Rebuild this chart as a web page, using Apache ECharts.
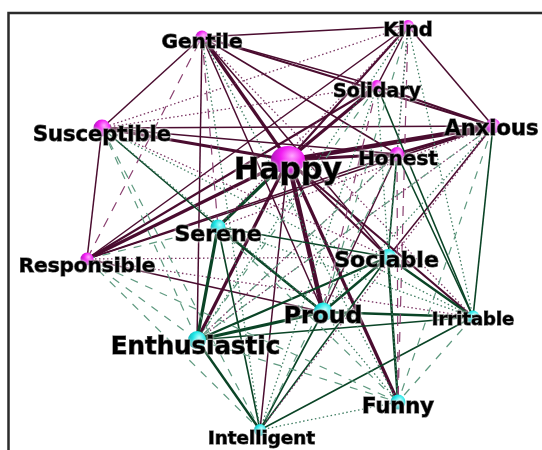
<!DOCTYPE html>
<html>
<head>
<meta charset="utf-8">
<script src="https://cdn.jsdelivr.net/npm/echarts@6/dist/echarts.min.js"></script>
<style>
  html, body { margin: 0; padding: 0; background: #fff; }
  #chart { width: 542px; height: 450px; }
</style>
</head>
<body>
<div id="chart"></div>
<script>
// nodes (layout coordinates in the 542 x 450 frame)
const nodeNames = ['Gentile', 'Kind', 'Solidary', 'Anxious', 'Susceptible', 'Happy', 'Honest', 'Serene',
  'Responsible', 'Sociable', 'Proud', 'Irritable', 'Enthusiastic', 'Funny', 'Intelligent'];
const nodeX = [202, 408, 377, 493, 102, 288, 397, 218, 87, 388, 323, 473, 197, 398, 260];
const nodeY = [37, 26, 86, 126, 128, 160, 154, 227, 259, 257, 312, 317, 340, 402, 430];
const nodeGroup = ['m', 'm', 'm', 'm', 'm', 'm', 'm', 'c', 'm', 'c', 'c', 'c', 'c', 'c', 'c'];

// links: source, target, kind
const links = [
  ['Happy', 'Gentile', 'M3'], ['Happy', 'Solidary', 'M3'], ['Happy', 'Anxious', 'M4'],
  ['Happy', 'Honest', 'M3'], ['Happy', 'Susceptible', 'M3'], ['Happy', 'Responsible', 'M3'],
  ['Happy', 'Proud', 'M4'], ['Happy', 'Funny', 'M3'], ['Happy', 'Enthusiastic', 'M3'],
  ['Happy', 'Sociable', 'M2'], ['Happy', 'Kind', 'M2'], ['Happy', 'Irritable', 'M2'],
  ['Happy', 'Intelligent', 'M1'], ['Happy', 'Serene', 'G3'],
  ['Gentile', 'Kind', 'M1'], ['Gentile', 'Susceptible', 'M1'], ['Gentile', 'Solidary', 'M1'],
  ['Gentile', 'Anxious', 'M2'], ['Gentile', 'Honest', 'M1'], ['Gentile', 'Enthusiastic', 'M1'],
  ['Gentile', 'Proud', 'M1'], ['Gentile', 'Sociable', 'M1'],
  ['Susceptible', 'Responsible', 'M1'], ['Susceptible', 'Anxious', 'M1'], ['Susceptible', 'Honest', 'M1'],
  ['Responsible', 'Solidary', 'M2'], ['Responsible', 'Kind', 'M1'], ['Responsible', 'Honest', 'M1'],
  ['Responsible', 'Anxious', 'M1'], ['Responsible', 'Proud', 'M1'],
  ['Kind', 'Solidary', 'M1'], ['Kind', 'Anxious', 'M1'], ['Solidary', 'Anxious', 'M2'],
  ['Anxious', 'Honest', 'M3'], ['Anxious', 'Sociable', 'M1'], ['Honest', 'Proud', 'M1'],
  ['Serene', 'Enthusiastic', 'G3'], ['Serene', 'Proud', 'G2'], ['Serene', 'Intelligent', 'G1'],
  ['Serene', 'Sociable', 'G1'], ['Enthusiastic', 'Proud', 'G3'], ['Enthusiastic', 'Sociable', 'G2'],
  ['Enthusiastic', 'Intelligent', 'G2'], ['Enthusiastic', 'Irritable', 'G1'], ['Proud', 'Sociable', 'G2'],
  ['Proud', 'Irritable', 'G2'], ['Proud', 'Intelligent', 'G1'], ['Sociable', 'Irritable', 'G2'],
  ['Sociable', 'Funny', 'G2'], ['Sociable', 'Intelligent', 'G1'], ['Irritable', 'Intelligent', 'G1'],
  ['Susceptible', 'Serene', 'G1'], ['Solidary', 'Irritable', 'G1'], ['Honest', 'Sociable', 'G1'],
  ['Honest', 'Irritable', 'G1'], ['Anxious', 'Irritable', 'G1'],
  ['Susceptible', 'Kind', 'md'], ['Susceptible', 'Solidary', 'md'], ['Gentile', 'Irritable', 'md'],
  ['Responsible', 'Irritable', 'md'], ['Responsible', 'Sociable', 'md'], ['Susceptible', 'Sociable', 'md'],
  ['Kind', 'Serene', 'md'], ['Kind', 'Honest', 'md'], ['Enthusiastic', 'Honest', 'md'],
  ['Enthusiastic', 'Anxious', 'md'], ['Serene', 'Anxious', 'md'], ['Intelligent', 'Anxious', 'md'],
  ['Responsible', 'Gentile', 'mD'], ['Kind', 'Funny', 'mD'], ['Honest', 'Funny', 'mD'],
  ['Solidary', 'Proud', 'mD'], ['Gentile', 'Serene', 'mD'],
  ['Kind', 'Enthusiastic', 'gd'], ['Kind', 'Sociable', 'gd'], ['Kind', 'Irritable', 'gd'],
  ['Kind', 'Proud', 'gD'], ['Gentile', 'Intelligent', 'gd'], ['Gentile', 'Funny', 'gd'],
  ['Susceptible', 'Enthusiastic', 'gD'], ['Susceptible', 'Intelligent', 'gD'], ['Susceptible', 'Proud', 'gd'],
  ['Susceptible', 'Irritable', 'gd'], ['Responsible', 'Serene', 'gD'], ['Responsible', 'Intelligent', 'gD'],
  ['Responsible', 'Enthusiastic', 'gD'], ['Responsible', 'Funny', 'gD'], ['Solidary', 'Enthusiastic', 'gD'],
  ['Solidary', 'Intelligent', 'gd'], ['Solidary', 'Funny', 'gd'], ['Honest', 'Enthusiastic', 'gD'],
  ['Honest', 'Intelligent', 'gD'], ['Anxious', 'Proud', 'gd'], ['Anxious', 'Enthusiastic', 'gD'],
  ['Anxious', 'Funny', 'gD'], ['Serene', 'Irritable', 'gd'], ['Serene', 'Funny', 'gD'],
  ['Enthusiastic', 'Funny', 'gD'], ['Irritable', 'Funny', 'gD'], ['Proud', 'Funny', 'gd'],
  ['Intelligent', 'Funny', 'gd']
];

// styles
const linkStyles = {
  M4: { color: '#4a0c2f', width: 4.5, type: 'solid' },
  M3: { color: '#4a0c2f', width: 3.2, type: 'solid' },
  M2: { color: '#4a0c2f', width: 2.2, type: 'solid' },
  M1: { color: '#4a0c2f', width: 1.5, type: 'solid' },
  G3: { color: '#0a4426', width: 3.2, type: 'solid' },
  G2: { color: '#0a4426', width: 2.4, type: 'solid' },
  G1: { color: '#0a4426', width: 1.6, type: 'solid' },
  md: { color: '#7a3563', width: 1.3, type: [1.5, 2.5] },
  mD: { color: '#8a4070', width: 1.2, type: [10, 8] },
  gd: { color: '#3f7d62', width: 1.3, type: [1.5, 2.5] },
  gD: { color: '#5f9a80', width: 1.2, type: [8, 8] }
};
const symbolSizes = {
  Happy: [34, 28], Proud: 19, Enthusiastic: 18, Susceptible: 17, Sociable: 16, Serene: 15,
  Funny: 15, Anxious: 15, Honest: 14, Gentile: 13, Responsible: 13, Irritable: 13,
  Kind: 12, Solidary: 12, Intelligent: 12
};
const labelFont = {
  Happy: 30, Enthusiastic: 24.5, Proud: 23.5, Sociable: 22, Serene: 22, Susceptible: 21,
  Anxious: 21, Funny: 21, Gentile: 20, Honest: 20, Responsible: 20, Kind: 19.5,
  Solidary: 19, Intelligent: 18.3, Irritable: 18
};
const labelShift = {
  Happy: [0, 11], Susceptible: [0, 7.5], Gentile: [0, 5.5], Kind: [0, 5], Solidary: [0, 6],
  Anxious: [-1.5, 4], Honest: [1, 5.5], Serene: [0, 8.5], Responsible: [0, 7.5],
  Sociable: [-1.5, 4.5], Proud: [0, 4.5], Irritable: [0, 3.5], Enthusiastic: [-1.5, 8],
  Funny: [0, 5.5], Intelligent: [1.5, 9]
};
const sphere = {
  m: ['#ffa8ff', '#f21cf2', '#8a1a9c'],
  c: ['#b0ffff', '#1ee6e6', '#0a8f94']
};

const chart = echarts.init(document.getElementById('chart'));

const nodes = nodeNames.map((name, i) => {
  const s = sphere[nodeGroup[i]];
  return {
    name: name,
    value: [nodeX[i], nodeY[i]],
    symbolSize: symbolSizes[name],
    itemStyle: {
      color: {
        type: 'radial', x: 0.62, y: 0.35, r: 0.75,
        colorStops: [
          { offset: 0, color: s[0] },
          { offset: 0.45, color: s[1] },
          { offset: 1, color: s[2] }
        ]
      }
    },
    label: {
      show: true,
      position: 'inside',
      offset: labelShift[name],
      fontSize: labelFont[name],
      fontWeight: 'bold',
      fontFamily: 'DejaVu Sans',
      color: '#000',
      textBorderColor: '#000',
      textBorderWidth: 1,
      textShadowColor: 'rgba(255,255,255,0.95)',
      textShadowBlur: 3
    }
  };
});

const edges = links.map(l => ({
  source: l[0],
  target: l[1],
  lineStyle: Object.assign({ opacity: 1, curveness: 0 }, linkStyles[l[2]])
}));

chart.setOption({
  animation: false,
  backgroundColor: '#fff',
  grid: { left: 0, right: 0, top: 0, bottom: 0 },
  xAxis: { type: 'value', min: 0, max: 542, show: false },
  yAxis: { type: 'value', min: 0, max: 450, inverse: true, show: false },
  graphic: [{
    type: 'rect',
    shape: { x: 8.5, y: 13, width: 600, height: 500 },
    style: { fill: null, stroke: '#2b2b2b', lineWidth: 2.5 },
    z: 0
  }],
  series: [{
    type: 'graph',
    coordinateSystem: 'cartesian2d',
    layout: 'none',
    symbol: 'circle',
    data: nodes,
    links: edges,
    emphasis: { disabled: true },
    z: 2
  }]
});
</script>
</body>
</html>
